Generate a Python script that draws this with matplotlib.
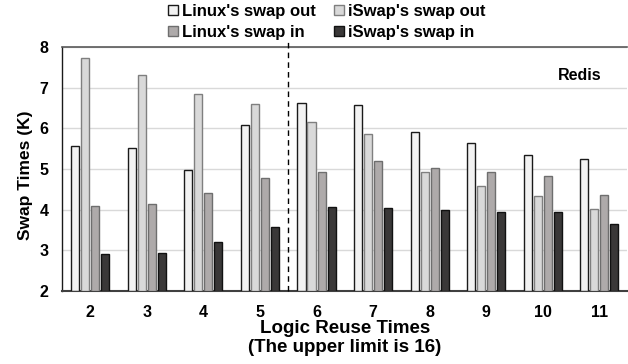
import numpy as np
import matplotlib.pyplot as plt

plt.rcParams['font.family'] = ['Liberation Sans', 'DejaVu Sans']
plt.rcParams['font.weight'] = 'bold'

reuse = ['2', '3', '4', '5', '6', '7', '8', '9', '10', '11']
linux_out = [5.56, 5.52, 4.97, 6.08, 6.63, 6.58, 5.92, 5.63, 5.35, 5.25]
iswap_out = [7.73, 7.32, 6.85, 6.60, 6.16, 5.87, 4.93, 4.58, 4.34, 4.01]
linux_in = [4.08, 4.13, 4.41, 4.77, 4.93, 5.20, 5.02, 4.93, 4.82, 4.36]
iswap_in = [2.90, 2.94, 3.20, 3.58, 4.07, 4.03, 3.98, 3.95, 3.93, 3.65]

series = [
    ("Linux's swap out", linux_out, '#f2f2f2', '#1a1a1a'),
    ("iSwap's swap out", iswap_out, '#d9d9d9', '#7f7f7f'),
    ("Linux's swap in", linux_in, '#aeaaaa', '#6e6e6e'),
    ("iSwap's swap in", iswap_in, '#3a3838', '#111111'),
]

fig = plt.figure(figsize=(6.28, 3.64), dpi=100)
ax = fig.add_axes([0.099, 0.201, 0.900, 0.670])

x = np.arange(len(reuse))
w = 0.142
pitch = 0.177
bars = []
for i, (name, vals, fc, ec) in enumerate(series):
    off = (i - 1.5) * pitch
    b = ax.bar(x + off, np.array(vals) - 2, w, bottom=2, color=fc,
               edgecolor=ec, linewidth=1.0, label=name, zorder=3)
    bars.append(b)

ax.set_xlim(-0.5, len(reuse) - 0.5)
ax.set_ylim(2, 8)
ax.set_yticks([2, 3, 4, 5, 6, 7, 8])
ax.set_xticks(x)
ax.set_xticklabels(reuse)
ax.tick_params(axis='both', length=0, labelsize=11.5)
ax.tick_params(axis='y', pad=10)
ax.tick_params(axis='x', pad=10)
ax.grid(axis='y', color='#d9d9d9', linewidth=1.0, zorder=0)

ax.spines['right'].set_visible(False)
ax.spines['top'].set_color('#595959')
ax.spines['top'].set_linewidth(1.2)
ax.spines['bottom'].set_color('#404040')
ax.spines['bottom'].set_linewidth(1.5)
ax.spines['left'].set_color('#1a1a1a')
ax.spines['left'].set_linewidth(1.0)

# divider between the two reuse ranges
ax.plot([3.5, 3.5], [2, 8.17], color='black', linestyle=(0, (4, 3)),
        linewidth=1.0, clip_on=False, zorder=4)

ax.text(0.954, 0.885, 'Redis', transform=ax.transAxes, ha='right',
        va='center', fontsize=11.5, fontweight='bold')

ax.set_ylabel('Swap Times (K)', fontsize=12.5, fontweight='bold')
ax.yaxis.set_label_coords(-0.052, 0.475)
ax.set_xlabel("Logic Reuse Times\n(The upper limit is 16)", fontsize=13.5,
              fontweight='bold', labelpad=0, linespacing=1.15)

order = [bars[0], bars[2], bars[1], bars[3]]
labels = [series[0][0], series[2][0], series[1][0], series[3][0]]
leg = fig.legend(order, labels, ncol=2, loc='upper center',
                 bbox_to_anchor=(0.52, 1.03), frameon=False,
                 fontsize=12, handlelength=0.6, handleheight=0.6,
                 handletextpad=0.25, columnspacing=1.1, labelspacing=0.35)

fig.savefig('out.png', dpi=100)
